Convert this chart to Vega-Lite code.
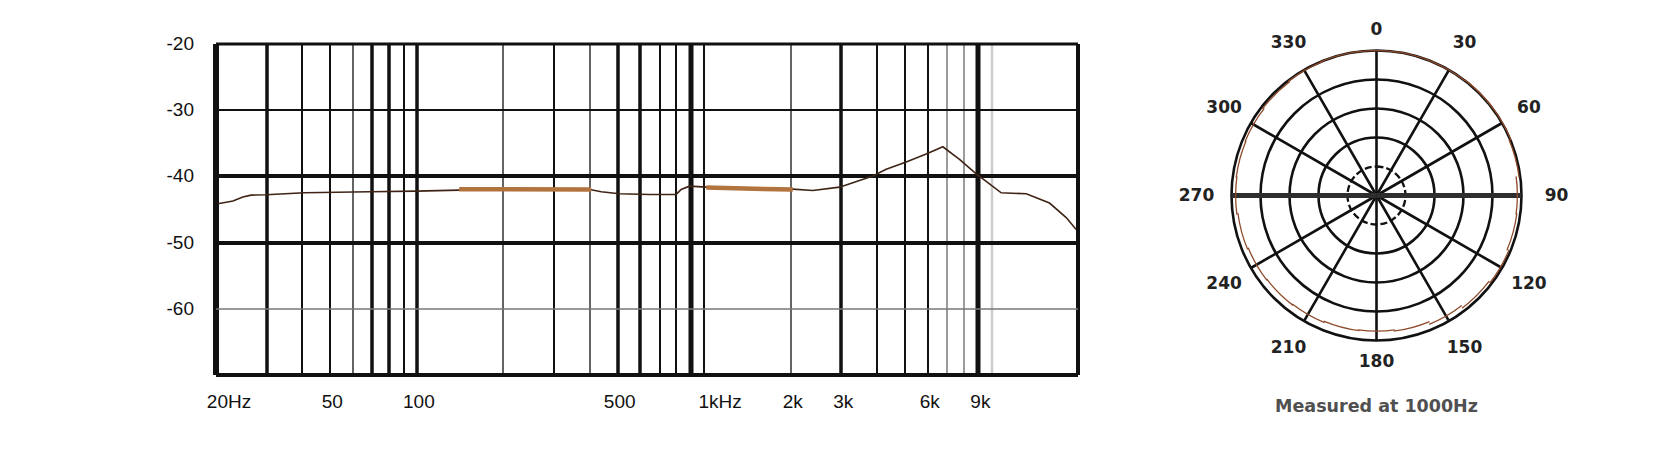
{
  "$schema": "https://vega.github.io/schema/vega-lite/v6.json",
  "background": "white",
  "padding": {"left": 165.5, "top": 20.5, "right": 20, "bottom": 10},
  "bounds": "flush",
  "spacing": 147,
  "config": {"view": {"stroke": null}, "font": "Liberation Sans"},
  "datasets": {
    "response": [
      {"freq": 20.4, "db": -44.2}, {"freq": 23, "db": -43.8}, {"freq": 24.9, "db": -43.2},
      {"freq": 26.6, "db": -42.9}, {"freq": 30, "db": -42.85}, {"freq": 40.8, "db": -42.55},
      {"freq": 68.7, "db": -42.4}, {"freq": 100, "db": -42.3}, {"freq": 141, "db": -42.15},
      {"freq": 200, "db": -42.05}, {"freq": 406, "db": -42.1}, {"freq": 440, "db": -42.4},
      {"freq": 509, "db": -42.7}, {"freq": 648, "db": -42.8}, {"freq": 802, "db": -42.8},
      {"freq": 835, "db": -42.05}, {"freq": 892, "db": -41.55}, {"freq": 1021, "db": -41.7},
      {"freq": 1500, "db": -41.9}, {"freq": 2043, "db": -42.0}, {"freq": 2398, "db": -42.2},
      {"freq": 2970, "db": -41.7}, {"freq": 3878, "db": -40.0}, {"freq": 4319, "db": -39.0},
      {"freq": 5067, "db": -37.9}, {"freq": 5950, "db": -36.7}, {"freq": 6797, "db": -35.6},
      {"freq": 7769, "db": -37.5}, {"freq": 8882, "db": -39.7}, {"freq": 9880, "db": -41.2},
      {"freq": 10850, "db": -42.55}, {"freq": 13260, "db": -42.7}, {"freq": 15980, "db": -44.1},
      {"freq": 18270, "db": -46.3}, {"freq": 19790, "db": -48.1}
    ],
    "bands": [
      {"freq": 141, "db": -42.0, "seg": "a"}, {"freq": 406, "db": -42.05, "seg": "a"},
      {"freq": 1021, "db": -41.75, "seg": "b"}, {"freq": 1500, "db": -41.95, "seg": "b"}, {"freq": 2043, "db": -42.05, "seg": "b"}
    ],
    "rings": [{"level": -20}, {"level": -15}, {"level": -10}, {"level": -5}, {"level": 0}],
    "spokes": [
      {"angle": 0}, {"angle": 30}, {"angle": 60}, {"angle": 90}, {"angle": 120}, {"angle": 150},
      {"angle": 180}, {"angle": 210}, {"angle": 240}, {"angle": 270}, {"angle": 300}, {"angle": 330}
    ],
    "labels": [
      {"angle": 0, "label": "0"}, {"angle": 30, "label": "30"}, {"angle": 60, "label": "60"},
      {"angle": 90, "label": "90"}, {"angle": 120, "label": "120"}, {"angle": 150, "label": "150"},
      {"angle": 180, "label": "180"}, {"angle": 210, "label": "210"}, {"angle": 240, "label": "240"},
      {"angle": 270, "label": "270"}, {"angle": 300, "label": "300"}, {"angle": 330, "label": "330"}
    ],
    "polar": [
      {"angle": 0, "level": 0.1}, {"angle": 15, "level": 0.1}, {"angle": 30, "level": 0.1},
      {"angle": 45, "level": 0.2}, {"angle": 60, "level": 0.2}, {"angle": 75, "level": -0.1},
      {"angle": 90, "level": -0.6}, {"angle": 105, "level": -0.5}, {"angle": 120, "level": -0.2},
      {"angle": 135, "level": -0.5}, {"angle": 150, "level": -0.9}, {"angle": 165, "level": -1.3},
      {"angle": 180, "level": -1.5}, {"angle": 195, "level": -1.4}, {"angle": 210, "level": -1.2},
      {"angle": 225, "level": -1.1}, {"angle": 240, "level": -1.0}, {"angle": 255, "level": -0.8},
      {"angle": 270, "level": -0.6}, {"angle": 285, "level": -0.5}, {"angle": 300, "level": -0.4},
      {"angle": 315, "level": -0.2}, {"angle": 330, "level": 0.0}, {"angle": 345, "level": 0.1}
    ]
  },
  "hconcat": [
    {
      "width": 862,
      "height": 331,
      "layer": [
        {
          "data": {"name": "response"},
          "mark": {"type": "line", "color": "#3f2416", "strokeWidth": 1.6},
          "encoding": {
            "x": {
              "field": "freq", "type": "quantitative",
              "scale": {"type": "log", "domain": [20, 20000], "nice": false},
              "axis": {
                "title": null,
                "values": [20, 30, 40, 50, 60, 70, 80, 90, 100, 200, 300, 400, 500, 600, 700, 800, 900, 1000, 2000, 3000, 4000, 5000, 6000, 7000, 8000, 9000, 10000, 20000],
                "labelExpr": "datum.value == 20 ? '20Hz' : datum.value == 50 ? '50' : datum.value == 100 ? '100' : datum.value == 500 ? '500' : datum.value == 1000 ? '1kHz' : datum.value == 2000 ? '2k' : datum.value == 3000 ? '3k' : datum.value == 6000 ? '6k' : datum.value == 9000 ? '9k' : ''",
                "grid": true, "domain": false, "ticks": false,
                "labelFont": "Liberation Sans", "labelFontSize": 19, "labelColor": "#111",
                "labelPadding": 18, "labelOverlap": false, "labelFlush": false, "labelBound": false,
                "labelOffset": {
                  "condition": [
                    {"test": "datum.value == 20", "value": 13},
                    {"test": "datum.value == 1000", "value": 16}
                  ],
                  "value": 2
                },
                "gridOpacity": 1,
                "gridWidth": {
                  "condition": [
                    {"test": "datum.value == 20", "value": 6},
                    {"test": "datum.value == 900 || datum.value == 9000", "value": 5},
                    {"test": "datum.value == 20000", "value": 4},
                    {"test": "indexof([30, 70, 80, 100, 500, 600, 3000], datum.value) >= 0", "value": 3.5},
                    {"test": "datum.value == 10000", "value": 2.5},
                    {"test": "indexof([60, 200, 400, 2000, 7000, 8000], datum.value) >= 0", "value": 1.3}
                  ],
                  "value": 2
                },
                "gridColor": {
                  "condition": [
                    {"test": "datum.value == 10000", "value": "#cccccc"},
                    {"test": "datum.value == 7000 || datum.value == 8000", "value": "#666666"}
                  ],
                  "value": "#111111"
                }
              }
            },
            "y": {
              "field": "db", "type": "quantitative",
              "scale": {"domain": [-70, -20], "nice": false, "zero": false},
              "axis": {
                "title": null,
                "values": [-70, -60, -50, -40, -30, -20],
                "labelExpr": "datum.value == -70 ? '' : '-' + abs(datum.value)",
                "grid": true, "domain": false, "ticks": false,
                "labelFont": "Liberation Sans", "labelFontSize": 19, "labelColor": "#111",
                "labelPadding": 22, "labelOverlap": false, "labelFlush": false, "labelBound": false,
                "gridOpacity": 1,
                "gridWidth": {
                  "condition": [
                    {"test": "datum.value == -30", "value": 2},
                    {"test": "datum.value == -60", "value": 1.5},
                    {"test": "datum.value == -20", "value": 3}
                  ],
                  "value": 3.8
                },
                "gridColor": {
                  "condition": {"test": "datum.value == -60", "value": "#777777"},
                  "value": "#111111"
                }
              }
            }
          }
        },
        {
          "data": {"name": "bands"},
          "mark": {"type": "line", "color": "#b3733f", "strokeWidth": 4.5},
          "encoding": {
            "x": {"field": "freq", "type": "quantitative"},
            "y": {"field": "db", "type": "quantitative"},
            "detail": {"field": "seg"}
          }
        }
      ]
    },
    {
      "width": 304,
      "height": 304,
      "title": {"text": "Measured at 1000Hz", "orient": "bottom", "offset": 28, "font": "DejaVu Sans", "fontSize": 17.5, "fontWeight": "bold", "color": "#505050"},
      "layer": [
        {
          "data": {"name": "rings"},
          "transform": [{"filter": "datum.level > -20"}],
          "mark": {"type": "arc", "theta": 0, "theta2": 6.2832, "filled": false, "stroke": "#111111", "strokeWidth": 2.6},
          "encoding": {
            "radius": {"field": "level", "type": "quantitative", "stack": null, "scale": {"type": "linear", "domain": [-25, 0], "range": [0, 145], "zero": false}},
            "radius2": {"datum": -25}
          }
        },
        {
          "data": {"name": "rings"},
          "transform": [{"filter": "datum.level == -20"}],
          "mark": {"type": "arc", "theta": 0, "theta2": 6.2832, "filled": false, "stroke": "#111111", "strokeWidth": 2.3, "strokeDash": [7, 3]},
          "encoding": {
            "radius": {"field": "level", "type": "quantitative", "stack": null},
            "radius2": {"datum": -25}
          }
        },
        {
          "data": {"name": "spokes"},
          "transform": [{"filter": "datum.angle % 180 != 90"}],
          "mark": {"type": "arc", "filled": false, "stroke": "#111111", "strokeWidth": 2.6},
          "encoding": {
            "theta": {"field": "angle", "type": "quantitative", "stack": null, "scale": {"type": "linear", "domain": [0, 360], "range": [0, 6.283185307]}},
            "theta2": {"field": "angle"},
            "radius": {"datum": 0, "type": "quantitative"},
            "radius2": {"datum": -25}
          }
        },
        {
          "data": {"name": "spokes"},
          "transform": [{"filter": "datum.angle % 180 == 90"}],
          "mark": {"type": "arc", "filled": false, "stroke": "#2e2e2e", "strokeWidth": 5},
          "encoding": {
            "theta": {"field": "angle", "type": "quantitative", "stack": null},
            "theta2": {"field": "angle"},
            "radius": {"datum": 0, "type": "quantitative"},
            "radius2": {"datum": -25}
          }
        },
        {
          "data": {"name": "polar"},
          "mark": {"type": "arc", "color": "#8e4a2a", "thetaOffset": -0.136, "theta2Offset": 0.136, "radius2Offset": -1.3},
          "encoding": {
            "theta": {"field": "angle", "type": "quantitative", "stack": null},
            "theta2": {"field": "angle"},
            "radius": {"field": "level", "type": "quantitative", "stack": null},
            "radius2": {"field": "level"}
          }
        },
        {
          "data": {"name": "labels"},
          "transform": [{"filter": "datum.angle == 0 || datum.angle == 180"}],
          "mark": {"type": "text", "radius": 166, "font": "DejaVu Sans", "fontWeight": "bold", "fontSize": 17, "color": "#222222", "align": "center", "baseline": "middle"},
          "encoding": {
            "theta": {"field": "angle", "type": "quantitative", "stack": null},
            "text": {"field": "label", "type": "nominal"}
          }
        },
        {
          "data": {"name": "labels"},
          "transform": [{"filter": "datum.angle == 90 || datum.angle == 270"}],
          "mark": {"type": "text", "radius": 180, "font": "DejaVu Sans", "fontWeight": "bold", "fontSize": 17, "color": "#222222", "align": "center", "baseline": "middle"},
          "encoding": {
            "theta": {"field": "angle", "type": "quantitative", "stack": null},
            "text": {"field": "label", "type": "nominal"}
          }
        },
        {
          "data": {"name": "labels"},
          "transform": [{"filter": "datum.angle % 90 != 0"}],
          "mark": {"type": "text", "radius": 176, "font": "DejaVu Sans", "fontWeight": "bold", "fontSize": 17, "color": "#222222", "align": "center", "baseline": "middle"},
          "encoding": {
            "theta": {"field": "angle", "type": "quantitative", "stack": null},
            "text": {"field": "label", "type": "nominal"}
          }
        }
      ]
    }
  ]
}
